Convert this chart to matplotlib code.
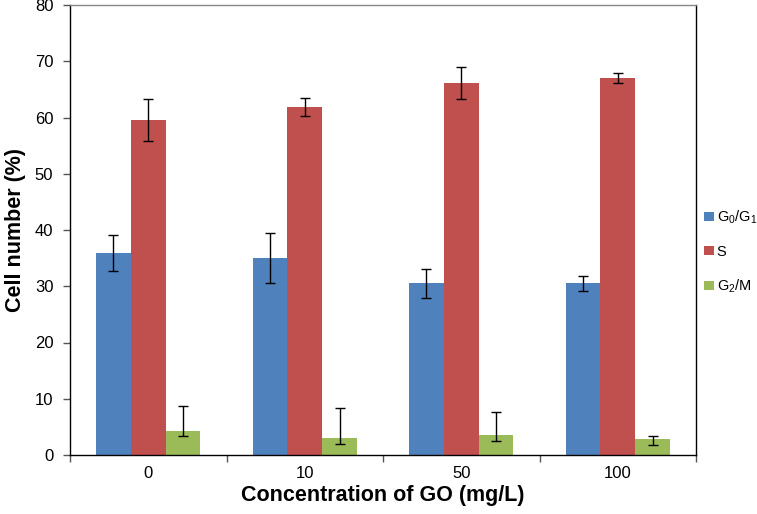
import numpy as np
import matplotlib
matplotlib.use('Agg')
import matplotlib.pyplot as plt

plt.rcParams['font.family'] = ['Liberation Sans', 'DejaVu Sans']
plt.rcParams['mathtext.default'] = 'regular'

# Data
concentrations = ['0', '10', '50', '100']
g0g1 = [35.9, 35.0, 30.5, 30.5]
g0g1_err = [3.2, 4.4, 2.6, 1.3]
s_phase = [59.6, 61.9, 66.1, 67.0]
s_err = [3.7, 1.6, 2.8, 0.9]
g2m = [4.2, 3.1, 3.5, 2.8]
g2m_err_low = [0.8, 1.2, 1.0, 1.1]
g2m_err_high = [4.6, 5.3, 4.1, 0.5]

series = [
    (g0g1, [g0g1_err, g0g1_err], '#4F81BD', 'G$_0$/G$_1$'),
    (s_phase, [s_err, s_err], '#C0504D', 'S'),
    (g2m, [g2m_err_low, g2m_err_high], '#9BBB59', 'G$_2$/M'),
]

fig = plt.figure(figsize=(7.57, 5.14), dpi=100)
fig.patch.set_facecolor('white')
ax = fig.add_axes([70 / 757, 59 / 514, 626 / 757, 450 / 514])

x = np.arange(len(concentrations))
width = 1 / 4.5  # Excel gap width 150%
for i, (vals, err, color, label) in enumerate(series):
    ax.bar(x + (i - 1) * width, vals, width, color=color, label=label,
           yerr=err, capsize=3.5,
           error_kw=dict(ecolor='black', elinewidth=1, capthick=1))

ax.set_xlim(-0.5, len(concentrations) - 0.5)
ax.set_ylim(0, 80)
ax.set_yticks(np.arange(0, 81, 10))
ax.set_xticks(x)
ax.set_xticklabels(concentrations)
ax.set_xticks(np.arange(-0.5, len(concentrations)), minor=True)
ax.tick_params(axis='x', which='major', length=0, labelsize=12, pad=8)
ax.tick_params(axis='x', which='minor', length=5, width=1, color='#555555')
ax.tick_params(axis='y', length=5, width=1, labelsize=12, color='#555555', pad=7)

ax.set_xlabel('Concentration of GO (mg/L)', fontsize=15.5, fontweight='bold', labelpad=3)
ax.set_ylabel('Cell number (%)', fontsize=15.5, fontweight='bold', labelpad=6)

for name, spine in ax.spines.items():
    spine.set_linewidth(1)
    spine.set_color('#888888' if name == 'top' else 'black')

ax.legend(loc='center left', bbox_to_anchor=(1.012, 0.451), frameon=False,
          fontsize=10.5, handlelength=0.75, handleheight=0.55, handletextpad=0.15,
          labelspacing=1.3, borderpad=0, borderaxespad=0)

fig.savefig('out.png', dpi=100, facecolor='white')
